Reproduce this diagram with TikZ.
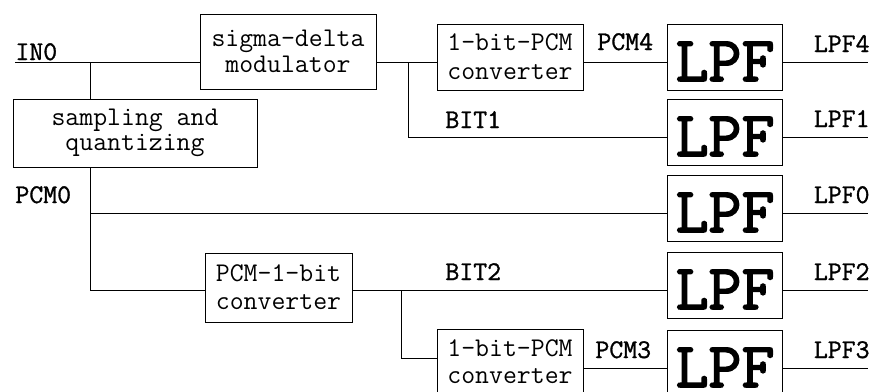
\documentclass[tikz,border=0pt]{standalone}
\usepackage{fontspec}
\newfontfamily\heavymono[FakeBold=1.2]{Latin Modern Mono}
\newfontfamily\lpfmono[FakeBold=2.5]{Latin Modern Mono}

\begin{document}
\begin{tikzpicture}[x=1pt, y=-1pt, line width=0.9pt,
  blk/.style={draw, inner sep=0pt, font=\ttfamily\fontsize{27}{20}\selectfont},
  lpf/.style={draw, inner sep=0pt, minimum width=115pt, minimum height=66pt,
    text height=57pt, text depth=9pt, font=\lpfmono\fontsize{64}{64}\selectfont},
  lbl/.style={inner sep=0pt, anchor=base west, font=\heavymono\fontsize{27}{27}\selectfont}]
  \useasboundingbox (0,0) rectangle (872,391);
  % blocks
  \node[blk, align=left, minimum width=176pt, minimum height=75pt] (sdm) at (288,51.5)
    {sigma-delta\\[2pt]\ modulator};
  \node[blk, align=center, minimum width=244pt, minimum height=68pt] (samp) at (135,133)
    {sampling and\\[2pt]quantizing};
  \node[blk, align=center, minimum width=146pt, minimum height=66pt] (conv1) at (510,57)
    {1-bit-PCM\\[9pt]converter};
  \node[blk, align=center, minimum width=147pt, minimum height=69pt] (p2b) at (278.5,287.5)
    {PCM-1-bit\\[8pt]converter};
  \node[blk, align=center, minimum width=146pt, minimum height=66pt] (conv2) at (510,362)
    {1-bit-PCM\\[7pt]converter};
  % low pass filters and outputs
  \foreach \n/\y in {4/62, 1/137, 0/213, 2/290, 3/368}{
    \node[lpf] (lpf\n) at (725,\y-5) {LPF};
    \coordinate (out\n) at (868,\y);
    \draw (lpf\n.east |- out\n) -- (out\n);
    \node[lbl, anchor=base east] (tlpf\n) at (870,\y-10) {LPF\n};
  }
  % input and branches
  \coordinate (in) at (15,62);
  \coordinate (j0) at (90,62);
  \coordinate (j1) at (408,62);
  \coordinate (b1) at (408,137);
  \coordinate (j4) at (90,213);
  \coordinate (j3) at (90,290);
  \coordinate (j2) at (401,290);
  \coordinate (b2) at (401,358);
  \draw (in) -- (in -| sdm.west);
  \draw (j0) -- (j0 |- samp.north);
  \draw (j1 -| sdm.east) -- (j1 -| conv1.west);
  \draw (conv1.east |- out4) -- (lpf4.west |- out4);
  \draw (j1) -- (b1) -- (lpf1.west |- b1);
  \draw (j0 |- samp.south) -- (j3) -- (j3 -| p2b.west);
  \draw (j4) -- (lpf0.west |- j4);
  \draw (p2b.east |- j2) -- (lpf2.west |- j2);
  \draw (j2) -- (b2) -- (b2 -| conv2.west);
  \draw (conv2.east |- out3) -- (lpf3.west |- out3);
  % signal names
  \node[lbl] (tin0) at (15,60) {IN0};
  \node[lbl] (tpcm4) at (597,50) {PCM4};
  \node[lbl] (tbit1) at (445,128) {BIT1};
  \node[lbl] (tpcm0) at (15,203) {PCM0};
  \node[lbl] (tbit2) at (445,280) {BIT2};
  \node[lbl] (tpcm3) at (595,358) {PCM3};
\end{tikzpicture}
\end{document}
